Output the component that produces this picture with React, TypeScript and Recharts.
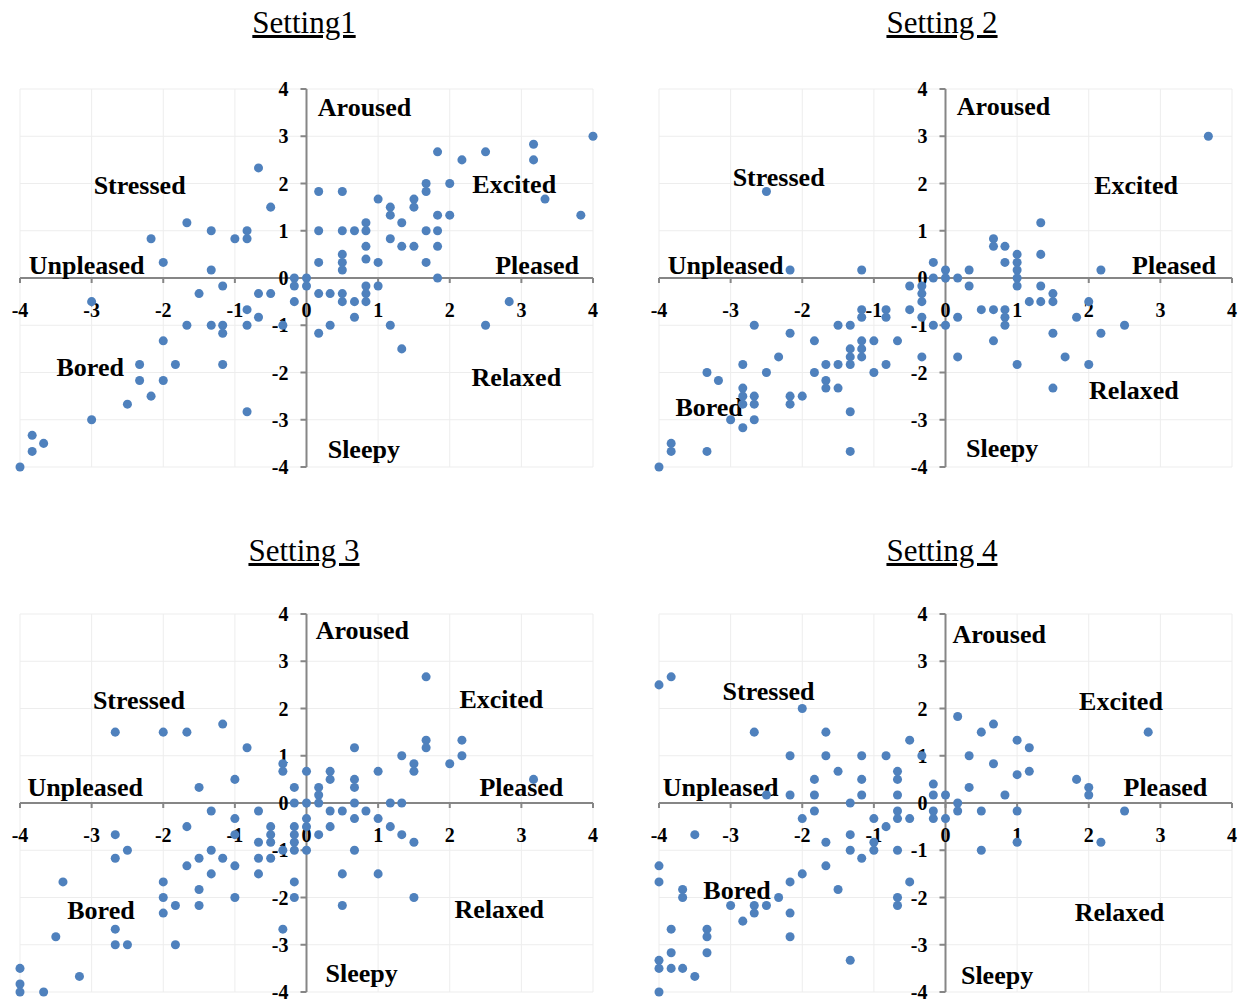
import React from 'react';
import { ScatterChart, Scatter, XAxis, YAxis, CartesianGrid, ReferenceLine, ReferenceDot } from 'recharts';

// valence (x) / arousal (y) ratings, one array per setting
const setting1Points = [
  { x: -0.67, y: 2.33 }, { x: -0.5, y: 1.5 }, { x: -1.67, y: 1.17 }, { x: -1.33, y: 1 }, { x: -0.83, y: 1 },
  { x: -0.83, y: 0.83 }, { x: -1, y: 0.83 }, { x: -2.17, y: 0.83 }, { x: -2, y: 0.33 }, { x: -1.33, y: 0.17 },
  { x: -0.17, y: 0 }, { x: 0, y: 0 }, { x: -0.17, y: -0.17 }, { x: 0, y: -0.17 }, { x: -1.17, y: -0.17 },
  { x: -1.5, y: -0.33 }, { x: -0.67, y: -0.33 }, { x: -0.5, y: -0.33 }, { x: -0.17, y: -0.5 }, { x: -3, y: -0.5 },
  { x: -0.83, y: -0.67 }, { x: -0.67, y: -0.83 }, { x: -1.67, y: -1 }, { x: -1.33, y: -1 }, { x: -1.17, y: -1 },
  { x: -0.83, y: -1 }, { x: -0.33, y: -1 }, { x: -1.17, y: -1.17 }, { x: -2, y: -1.33 }, { x: -2.33, y: -1.83 },
  { x: -1.83, y: -1.83 }, { x: -1.17, y: -1.83 }, { x: -2.33, y: -2.17 }, { x: -2, y: -2.17 }, { x: -2.17, y: -2.5 },
  { x: -2.5, y: -2.67 }, { x: -3, y: -3 }, { x: -0.83, y: -2.83 }, { x: -3.83, y: -3.33 }, { x: -3.67, y: -3.5 },
  { x: -3.83, y: -3.67 }, { x: -4, y: -4 },
  { x: 4, y: 3 }, { x: 3.17, y: 2.83 }, { x: 3.17, y: 2.5 }, { x: 1.83, y: 2.67 }, { x: 2.5, y: 2.67 },
  { x: 2.17, y: 2.5 }, { x: 2, y: 2 }, { x: 1.67, y: 2 }, { x: 1.67, y: 1.83 }, { x: 0.17, y: 1.83 },
  { x: 0.5, y: 1.83 }, { x: 1, y: 1.67 }, { x: 1.5, y: 1.67 }, { x: 1.5, y: 1.5 }, { x: 1.17, y: 1.5 },
  { x: 1.17, y: 1.33 }, { x: 3.33, y: 1.67 }, { x: 3.83, y: 1.33 }, { x: 1.83, y: 1.33 }, { x: 2, y: 1.33 },
  { x: 0.83, y: 1.17 }, { x: 1.33, y: 1.17 }, { x: 0.17, y: 1 }, { x: 0.5, y: 1 }, { x: 0.67, y: 1 },
  { x: 0.83, y: 1 }, { x: 1.67, y: 1 }, { x: 1.83, y: 1 }, { x: 1.17, y: 0.83 }, { x: 0.83, y: 0.67 },
  { x: 1.33, y: 0.67 }, { x: 1.5, y: 0.67 }, { x: 1.83, y: 0.67 }, { x: 0.5, y: 0.5 }, { x: 0.5, y: 0.33 },
  { x: 0.5, y: 0.17 }, { x: 0.17, y: 0.33 }, { x: 0.83, y: 0.4 }, { x: 1, y: 0.33 }, { x: 1.67, y: 0.33 },
  { x: 1.83, y: 0 }, { x: 0.17, y: -0.33 }, { x: 0.33, y: -0.33 }, { x: 0.5, y: -0.33 }, { x: 0.83, y: -0.17 },
  { x: 1, y: -0.17 }, { x: 0.83, y: -0.33 }, { x: 0.5, y: -0.5 }, { x: 0.67, y: -0.5 }, { x: 0.83, y: -0.5 },
  { x: 2.83, y: -0.5 }, { x: 0.67, y: -0.83 }, { x: 0.33, y: -1 }, { x: 0.17, y: -1.17 }, { x: 1.17, y: -1 },
  { x: 2.5, y: -1 }, { x: 1.33, y: -1.5 },
];

const setting2Points = [
  { x: -2.5, y: 1.83 }, { x: -2.17, y: 0.17 }, { x: -1.17, y: 0.17 }, { x: -0.17, y: 0.33 }, { x: -0.17, y: 0 },
  { x: 0, y: 0.17 }, { x: 0, y: 0 }, { x: -0.5, y: -0.17 }, { x: -0.33, y: -0.17 }, { x: -0.33, y: -0.33 },
  { x: -0.33, y: -0.5 }, { x: -1.17, y: -0.67 }, { x: -1.17, y: -0.83 }, { x: -0.83, y: -0.67 }, { x: -0.83, y: -0.83 },
  { x: -0.5, y: -0.67 }, { x: -0.33, y: -0.83 }, { x: -0.17, y: -1 }, { x: 0, y: -1 }, { x: -2.67, y: -1 },
  { x: -1.5, y: -1 }, { x: -1.33, y: -1 }, { x: -2.17, y: -1.17 }, { x: -1.83, y: -1.33 }, { x: -1.17, y: -1.33 },
  { x: -1, y: -1.33 }, { x: -0.67, y: -1.33 }, { x: -1.33, y: -1.5 }, { x: -1.17, y: -1.5 }, { x: -1.33, y: -1.67 },
  { x: -1.17, y: -1.67 }, { x: -0.33, y: -1.67 }, { x: -2.33, y: -1.67 }, { x: -2.83, y: -1.83 }, { x: -1.67, y: -1.83 },
  { x: -1.5, y: -1.83 }, { x: -1.33, y: -1.83 }, { x: -0.83, y: -1.83 }, { x: -3.33, y: -2 }, { x: -2.5, y: -2 },
  { x: -1.83, y: -2 }, { x: -1, y: -2 }, { x: -3.17, y: -2.17 }, { x: -1.67, y: -2.17 }, { x: -1.67, y: -2.33 },
  { x: -1.5, y: -2.33 }, { x: -2.83, y: -2.33 }, { x: -2.83, y: -2.5 }, { x: -2.67, y: -2.5 }, { x: -2.17, y: -2.5 },
  { x: -2, y: -2.5 }, { x: -2.83, y: -2.67 }, { x: -2.67, y: -2.67 }, { x: -2.17, y: -2.67 }, { x: -1.33, y: -2.83 },
  { x: -3, y: -3 }, { x: -2.67, y: -3 }, { x: -2.83, y: -3.17 }, { x: -3.83, y: -3.5 }, { x: -3.83, y: -3.67 },
  { x: -3.33, y: -3.67 }, { x: -1.33, y: -3.67 }, { x: -4, y: -4 },
  { x: 3.67, y: 3 }, { x: 1.33, y: 1.17 }, { x: 0.67, y: 0.83 }, { x: 0.67, y: 0.67 }, { x: 0.83, y: 0.67 },
  { x: 1, y: 0.5 }, { x: 1.33, y: 0.5 }, { x: 0.83, y: 0.33 }, { x: 1, y: 0.33 }, { x: 1, y: 0.17 },
  { x: 1, y: 0 }, { x: 1, y: -0.17 }, { x: 0.17, y: 0 }, { x: 0.33, y: 0.17 }, { x: 0.33, y: -0.17 },
  { x: 2.17, y: 0.17 }, { x: 1.33, y: -0.17 }, { x: 1.5, y: -0.33 }, { x: 1.5, y: -0.5 }, { x: 1.17, y: -0.5 },
  { x: 1.33, y: -0.5 }, { x: 2, y: -0.5 }, { x: 0.5, y: -0.67 }, { x: 0.67, y: -0.67 }, { x: 0.83, y: -0.67 },
  { x: 0.83, y: -0.83 }, { x: 0.83, y: -1 }, { x: 0.17, y: -0.83 }, { x: 1.83, y: -0.83 }, { x: 2.5, y: -1 },
  { x: 1.5, y: -1.17 }, { x: 2.17, y: -1.17 }, { x: 0.67, y: -1.33 }, { x: 0.17, y: -1.67 }, { x: 1.67, y: -1.67 },
  { x: 1, y: -1.83 }, { x: 2, y: -1.83 }, { x: 1.5, y: -2.33 },
];

const setting3Points = [
  { x: -2.67, y: 1.5 }, { x: -2, y: 1.5 }, { x: -1.67, y: 1.5 }, { x: -1.17, y: 1.67 }, { x: -0.83, y: 1.17 },
  { x: -0.33, y: 0.83 }, { x: -0.33, y: 0.67 }, { x: 0, y: 0.67 }, { x: -1, y: 0.5 }, { x: -1.5, y: 0.33 },
  { x: -0.17, y: 0.33 }, { x: -0.17, y: 0 }, { x: 0, y: 0 }, { x: -1.33, y: -0.17 }, { x: -0.67, y: -0.17 },
  { x: -1, y: -0.33 }, { x: 0, y: -0.33 }, { x: -1.67, y: -0.5 }, { x: -0.5, y: -0.5 }, { x: -0.17, y: -0.5 },
  { x: 0, y: -0.5 }, { x: -2.67, y: -0.67 }, { x: -1, y: -0.67 }, { x: -0.5, y: -0.67 }, { x: -0.17, y: -0.67 },
  { x: -0.67, y: -0.83 }, { x: -0.5, y: -0.83 }, { x: -0.17, y: -0.83 }, { x: -2.5, y: -1 }, { x: -1.33, y: -1 },
  { x: -0.33, y: -1 }, { x: -0.17, y: -1 }, { x: 0, y: -1 }, { x: -2.67, y: -1.17 }, { x: -1.5, y: -1.17 },
  { x: -1.17, y: -1.17 }, { x: -0.67, y: -1.17 }, { x: -0.5, y: -1.17 }, { x: -1.67, y: -1.33 }, { x: -1, y: -1.33 },
  { x: -1.33, y: -1.5 }, { x: -0.67, y: -1.5 }, { x: -3.4, y: -1.67 }, { x: -2, y: -1.67 }, { x: -0.17, y: -1.67 },
  { x: -1.5, y: -1.83 }, { x: -2, y: -2 }, { x: -1, y: -2 }, { x: -0.17, y: -2 }, { x: -1.83, y: -2.17 },
  { x: -1.5, y: -2.17 }, { x: -2, y: -2.33 }, { x: -2.67, y: -2.67 }, { x: -0.33, y: -2.67 }, { x: -3.5, y: -2.83 },
  { x: -2.67, y: -3 }, { x: -2.5, y: -3 }, { x: -1.83, y: -3 }, { x: -4, y: -3.5 }, { x: -4, y: -3.83 },
  { x: -4, y: -4 }, { x: -3.67, y: -4 }, { x: -3.17, y: -3.67 },
  { x: 1.67, y: 2.67 }, { x: 1.67, y: 1.33 }, { x: 1.67, y: 1.17 }, { x: 2.17, y: 1.33 }, { x: 2.17, y: 1 },
  { x: 2, y: 0.83 }, { x: 1.33, y: 1 }, { x: 1.5, y: 0.83 }, { x: 1.5, y: 0.67 }, { x: 0.67, y: 1.17 },
  { x: 1, y: 0.67 }, { x: 0.33, y: 0.67 }, { x: 0.33, y: 0.5 }, { x: 0.67, y: 0.5 }, { x: 0.67, y: 0.33 },
  { x: 0.17, y: 0.33 }, { x: 0.17, y: 0.17 }, { x: 0.17, y: 0 }, { x: 0.67, y: 0 }, { x: 1.17, y: 0 },
  { x: 1.33, y: 0 }, { x: 3.17, y: 0.5 }, { x: 0.33, y: -0.17 }, { x: 0.5, y: -0.17 }, { x: 0.83, y: -0.17 },
  { x: 0.67, y: -0.33 }, { x: 1, y: -0.33 }, { x: 0.33, y: -0.5 }, { x: 1.17, y: -0.5 }, { x: 0.17, y: -0.67 },
  { x: 1.33, y: -0.67 }, { x: 1.5, y: -0.83 }, { x: 0.67, y: -1 }, { x: 0.5, y: -1.5 }, { x: 1, y: -1.5 },
  { x: 1.5, y: -2 }, { x: 0.5, y: -2.17 },
];

const setting4Points = [
  { x: -4, y: 2.5 }, { x: -3.83, y: 2.67 }, { x: -2, y: 2 }, { x: -2.67, y: 1.5 }, { x: -1.67, y: 1.5 },
  { x: -0.5, y: 1.33 }, { x: -2.17, y: 1 }, { x: -1.67, y: 1 }, { x: -1.17, y: 1 }, { x: -0.83, y: 1 },
  { x: -0.33, y: 1 }, { x: -1.5, y: 0.67 }, { x: -0.67, y: 0.67 }, { x: -1.83, y: 0.5 }, { x: -1.17, y: 0.5 },
  { x: -0.67, y: 0.5 }, { x: -0.17, y: 0.4 }, { x: -2.5, y: 0.17 }, { x: -2.17, y: 0.17 }, { x: -1.83, y: 0.17 },
  { x: -1.17, y: 0.17 }, { x: -0.67, y: 0.17 }, { x: -0.17, y: 0.17 }, { x: 0, y: 0.17 }, { x: -1.33, y: 0 },
  { x: -1.83, y: -0.17 }, { x: -0.67, y: -0.17 }, { x: -0.17, y: -0.17 }, { x: -2, y: -0.33 }, { x: -1, y: -0.33 },
  { x: -0.67, y: -0.33 }, { x: -0.5, y: -0.33 }, { x: -0.17, y: -0.33 }, { x: 0, y: -0.33 }, { x: -0.83, y: -0.5 },
  { x: -3.5, y: -0.67 }, { x: -1.33, y: -0.67 }, { x: -1.67, y: -0.83 }, { x: -1, y: -0.83 }, { x: -1.33, y: -1 },
  { x: -1, y: -1 }, { x: -0.67, y: -1 }, { x: -1.17, y: -1.17 }, { x: -4, y: -1.33 }, { x: -1.67, y: -1.33 },
  { x: -2, y: -1.5 }, { x: -4, y: -1.67 }, { x: -2.17, y: -1.67 }, { x: -0.5, y: -1.67 }, { x: -3.67, y: -1.83 },
  { x: -1.5, y: -1.83 }, { x: -3.67, y: -2 }, { x: -2.33, y: -2 }, { x: -0.67, y: -2 }, { x: -3, y: -2.17 },
  { x: -2.67, y: -2.17 }, { x: -2.5, y: -2.17 }, { x: -0.67, y: -2.17 }, { x: -2.67, y: -2.33 }, { x: -2.17, y: -2.33 },
  { x: -2.83, y: -2.5 }, { x: -3.83, y: -2.67 }, { x: -3.33, y: -2.67 }, { x: -3.33, y: -2.83 }, { x: -2.17, y: -2.83 },
  { x: -3.83, y: -3.17 }, { x: -3.33, y: -3.17 }, { x: -1.33, y: -3.33 }, { x: -4, y: -3.33 }, { x: -4, y: -3.5 },
  { x: -3.83, y: -3.5 }, { x: -3.67, y: -3.5 }, { x: -3.5, y: -3.67 }, { x: -4, y: -4 },
  { x: 0.17, y: 1.83 }, { x: 0.67, y: 1.67 }, { x: 0.5, y: 1.5 }, { x: 2.83, y: 1.5 }, { x: 1, y: 1.33 },
  { x: 1.17, y: 1.17 }, { x: 0.33, y: 1 }, { x: 0.67, y: 0.83 }, { x: 1, y: 0.6 }, { x: 1.17, y: 0.67 },
  { x: 1.83, y: 0.5 }, { x: 2, y: 0.33 }, { x: 2, y: 0.17 }, { x: 0.33, y: 0.33 }, { x: 0.83, y: 0.17 },
  { x: 0.17, y: 0 }, { x: 0.17, y: -0.17 }, { x: 0.5, y: -0.17 }, { x: 1, y: -0.17 }, { x: 2.5, y: -0.17 },
  { x: 1, y: -0.83 }, { x: 2.17, y: -0.83 }, { x: 0.5, y: -1 },
];

const axisTicks = [-4, -3, -2, -1, 0, 1, 2, 3, 4];
const moods = ['Aroused', 'Excited', 'Pleased', 'Relaxed', 'Sleepy', 'Bored', 'Unpleased', 'Stressed'];
const titles = ['Setting1', 'Setting 2', 'Setting 3', 'Setting 4'];

// where each mood word is centred in each panel (data units), same order as moods
const moodSpots = [
  [[0.81, 3.6], [2.9, 1.98], [3.22, 0.27], [2.93, -2.1], [0.8, -3.63], [-3.02, -1.9], [-3.07, 0.27], [-2.33, 1.96]],
  [[0.81, 3.63], [2.66, 1.96], [3.19, 0.27], [2.63, -2.38], [0.79, -3.61], [-3.3, -2.74], [-3.07, 0.27], [-2.33, 2.13]],
  [[0.78, 3.65], [2.72, 2.19], [3.0, 0.32], [2.69, -2.26], [0.77, -3.61], [-2.87, -2.28], [-3.09, 0.32], [-2.34, 2.17]],
  [[0.75, 3.57], [2.45, 2.15], [3.07, 0.32], [2.43, -2.32], [0.72, -3.65], [-2.91, -1.86], [-3.14, 0.32], [-2.47, 2.36]],
];

const SERIF = "'Times New Roman', 'Liberation Serif', serif";
const AXIS = '#868686';
const DOT = '#4f81bd';

const CHART_W = 605;
const CHART_H = 400;
const MARGIN = { top: 10, right: 12, bottom: 12, left: 20 };

const panels = [
  { points: setting1Points, left: 0, top: 79, titleX: 304, titleTop: 7 },
  { points: setting2Points, left: 639, top: 79, titleX: 942, titleTop: 7 },
  { points: setting3Points, left: 0, top: 604, titleX: 304, titleTop: 535 },
  { points: setting4Points, left: 639, top: 604, titleX: 942, titleTop: 535 },
];

const xTickShape = (value: number) => (props: any) => (
  <g>
    <line x1={props.cx} y1={props.cy} x2={props.cx} y2={props.cy + 5} stroke={AXIS} strokeWidth={2} />
    <text x={props.cx} y={props.cy + 32} textAnchor="middle" dominantBaseline="central"
      fontFamily={SERIF} fontWeight="bold" fontSize={20} fill="#000">{value}</text>
  </g>
);

const yTickShape = (value: number) => (props: any) => (
  <g>
    <line x1={props.cx - 6} y1={props.cy} x2={props.cx} y2={props.cy} stroke={AXIS} strokeWidth={2} />
    <text x={props.cx - 18} y={props.cy} textAnchor="end" dominantBaseline="central"
      fontFamily={SERIF} fontWeight="bold" fontSize={20} fill="#000">{value}</text>
  </g>
);

const moodShape = (word: string) => (props: any) => (
  <text x={props.cx} y={props.cy} textAnchor="middle" dominantBaseline="central"
    fontFamily={SERIF} fontWeight="bold" fontSize={26} fill="#000">{word}</text>
);

const Panel = ({ index }: { index: number }) => {
  const p = panels[index];
  return (
    <>
      <div style={{
        position: 'absolute', left: p.titleX - 150, top: p.titleTop, width: 300, textAlign: 'center',
        fontFamily: SERIF, fontSize: 31, lineHeight: '31px', textDecoration: 'underline', color: '#000',
      }}>
        {titles[index]}
      </div>
      <div style={{ position: 'absolute', left: p.left, top: p.top }}>
        <ScatterChart width={CHART_W} height={CHART_H} margin={MARGIN}>
          <CartesianGrid stroke="#ededed" strokeWidth={1} />
          <XAxis type="number" dataKey="x" domain={[-4, 4]} ticks={axisTicks} hide />
          <YAxis type="number" dataKey="y" domain={[-4, 4]} ticks={axisTicks} hide />
          <ReferenceLine y={0} stroke={AXIS} strokeWidth={2} />
          <ReferenceLine x={0} stroke={AXIS} strokeWidth={2} />
          {axisTicks.map((t) => (
            <ReferenceDot key={'x' + t} x={t} y={0} r={1} shape={xTickShape(t)} />
          ))}
          {axisTicks.map((t) => (
            <ReferenceDot key={'y' + t} x={0} y={t} r={1} shape={yTickShape(t)} />
          ))}
          {moods.map((m, i) => (
            <ReferenceDot key={m} x={moodSpots[index][i][0]} y={moodSpots[index][i][1]} r={1} shape={moodShape(m)} />
          ))}
          <Scatter data={p.points} fill={DOT} isAnimationActive={false} />
        </ScatterChart>
      </div>
    </>
  );
};

export default function App() {
  return (
    <div style={{ position: 'absolute', left: 0, top: 0, width: 1244, height: 1000, background: '#fff' }}>
      {panels.map((_, i) => <Panel key={i} index={i} />)}
    </div>
  );
}
